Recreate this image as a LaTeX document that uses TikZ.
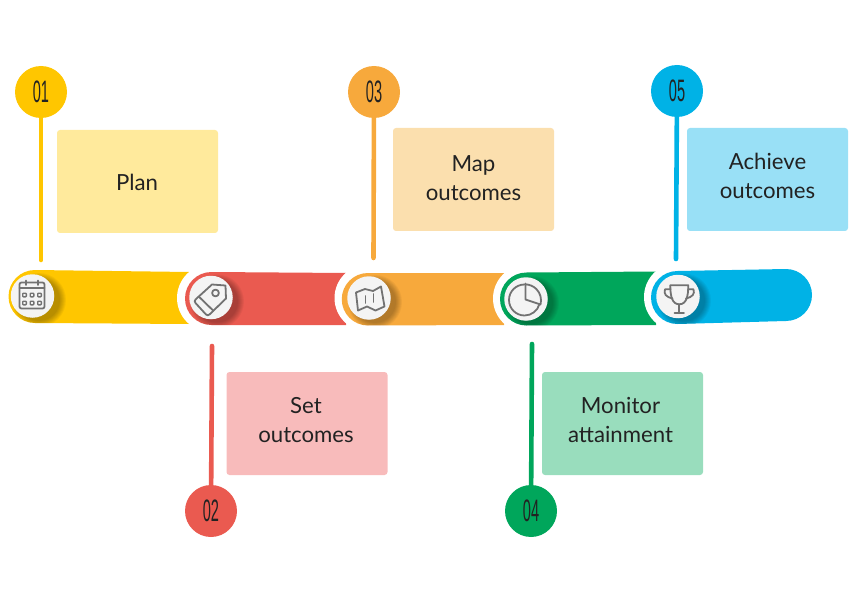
\documentclass[tikz,border=0pt]{standalone}
\usepackage{fontspec}
\usepackage{graphicx}
\setmainfont{Lato}
\newfontfamily\digitfont{Liberation Sans}
\definecolor{cy}{HTML}{FFC600}
\definecolor{cr}{HTML}{EA5A50}
\definecolor{co}{HTML}{F7A93C}
\definecolor{cg}{HTML}{00A65B}
\definecolor{cb}{HTML}{00B2E6}
\definecolor{ly}{HTML}{FFEA9C}
\definecolor{lr}{HTML}{F8BBBB}
\definecolor{lo}{HTML}{FBDFAE}
\definecolor{lg}{HTML}{99DDBD}
\definecolor{lb}{HTML}{99E0F6}
\definecolor{ink}{HTML}{222222}
\definecolor{icon}{HTML}{727272}
\definecolor{disc}{HTML}{F4F4F4}
\tikzset{
  badge/.style={circle,fill=#1,minimum size=52pt,inner sep=0pt,text=ink,font=\digitfont\fontsize{31}{31}\selectfont},
  infobox/.style={fill=#1,rounded corners=3pt,minimum width=161pt,minimum height=103pt,inner sep=0pt},
  boxtext/.style={text=ink,font=\fontsize{22.2}{29}\selectfont,align=center,inner sep=0pt},
  stem/.style={draw=#1,line width=4.6pt,line cap=round},
  icondisc/.style={circle,fill=disc,minimum size=43.5pt,inner sep=0pt},
  glyph/.style={draw=icon,line width=1.8pt,line join=round,line cap=round},
  % band={cx}{top}{bottom}{right x}{top at right}{bottom at right}
  band/.style n args={6}{insert path={
    (#1,#2) -- (#4,#5) -- (#4,#6) -- (#1,#3)
    .. controls ({#1-0.27615*(#3-#2)},#3) and ({#1-0.5*(#3-#2)},{(#3+#2)/2+0.27615*(#3-#2)}) .. ({#1-0.5*(#3-#2)},{(#3+#2)/2})
    .. controls ({#1-0.5*(#3-#2)},{(#3+#2)/2-0.27615*(#3-#2)}) and ({#1-0.27615*(#3-#2)},#2) .. (#1,#2) -- cycle}},
}
% soft shadow to the lower right of an icon disc
\newcommand{\softshadow}[2]{%
  \foreach \r in {27,26,...,21}{\fill[black,opacity=0.045] ({#1+6},{#2+4}) circle[radius=\r pt];}}
\begin{document}
\begin{tikzpicture}[x=1pt,y=-1pt]
\useasboundingbox (0,0) rectangle (855,607);
% bands
\fill[cy,band={35}{270}{323}{189}{272}{324}];
\begin{scope}\clip[band={35}{270}{323}{189}{272}{324}];\softshadow{33}{296}\end{scope}
\fill[white] (211,298) circle[radius=34];
\fill[cr,band={211.5}{272}{325}{346}{273}{325}];
\begin{scope}\clip[band={211.5}{272}{325}{346}{273}{325}];\softshadow{211}{297.5}\end{scope}
\fill[white] (368,298) circle[radius=33.5];
\fill[co,band={368}{273}{325.5}{504}{273}{325}];
\begin{scope}\clip[band={368}{273}{325.5}{504}{273}{325}];\softshadow{369}{298}\end{scope}
\fill[white] (527,298.5) circle[radius=34];
\fill[cg,band={526.5}{272.5}{325.5}{656}{271.5}{325}];
\begin{scope}\clip[band={526.5}{272.5}{325.5}{656}{271.5}{325}];\softshadow{526}{299}\end{scope}
\fill[white] (678,297) circle[radius=34];
\fill[cb,band={677.5}{271}{324}{786}{269}{321}];
\fill[cb] (786,295) circle[radius=26];
\begin{scope}\clip[band={677.5}{271}{324}{786}{269}{321}];\softshadow{678}{296.5}\end{scope}
% icon discs
\node[icondisc] (ic1) at (32.5,296) {};
\node[icondisc] (ic2) at (211,297.5) {};
\node[icondisc] (ic3) at (369,298) {};
\node[icondisc] (ic4) at (526,299) {};
\node[icondisc] (ic5) at (678,296.5) {};
% calendar
\draw[glyph,rounded corners=2pt] (19.5,282.5) rectangle (44.5,308.5);
\draw[glyph] (19.5,288) -- (44.5,288) (26,280.5) -- (26,285) (38,280.5) -- (38,285);
\foreach \px in {24.5,32,39.5}\foreach \py in {295,303}{\draw[glyph,line width=1.4pt,rounded corners=0.8pt] ({\px-1.8},{\py-1.8}) rectangle ({\px+1.8},{\py+1.8});}
% tag
\draw[glyph] (212,284.5) -- (225.5,285.5) -- (226,298.5) -- (209.5,314.5) .. controls (208.5,315.5) and (207,315.5) .. (206,314.5) -- (195.5,303) .. controls (194.5,302) and (194.5,300.5) .. (195.5,299.5) -- cycle;
\draw[glyph] (198.7,296.5) -- (213.3,310.7);
\draw[glyph] (215.5,293) circle[radius=3.4];
% map
\draw[glyph] (356,292.5) -- (365,289) -- (373,291) -- (381,286.5) -- (384.5,306.5) -- (375.5,310.5) -- (367,306.5) -- (358,310.5) -- cycle;
\draw[glyph] (365.5,296) -- (365.5,303) (373.5,294) -- (373.5,302);
% pie
\draw[glyph] (524.5,284.5) arc[start angle=-90,end angle=-345,radius=15.5];
\draw[glyph] (525.5,283.5) -- (525.5,299.5) -- (540.5,304.5) arc[start angle=15,end angle=-90,radius=16];
% trophy
\draw[glyph] (670.3,285.3) -- (688.3,285.3) .. controls (688.3,296) and (686.5,304.3) .. (679.3,304.3) .. controls (672,304.3) and (670.3,296) .. (670.3,285.3) -- cycle;
\draw[glyph] (670.5,289.3) -- (665,289.3) .. controls (663.5,294) and (666,297) .. (672.5,298.5);
\draw[glyph] (688,289.3) -- (693.5,289.3) .. controls (695,294) and (692.5,297) .. (686,298.5);
\draw[glyph] (679.3,304.3) -- (679.3,313.3) (674.5,313.3) -- (684,313.3);
% badges
\node[badge=cy] (b1) at (41,92) {\scalebox{.47}[1]{01}};
\node[badge=cr] (b2) at (211,511) {\scalebox{.47}[1]{02}};
\node[badge=co] (b3) at (374,92) {\scalebox{.47}[1]{03}};
\node[badge=cg] (b4) at (531,511) {\scalebox{.47}[1]{04}};
\node[badge=cb] (b5) at (677,91) {\scalebox{.47}[1]{05}};
% stem ends
\coordinate (s1) at (41,260);
\coordinate (s2) at (212,346);
\coordinate (s3) at (373.5,258);
\coordinate (s4) at (532,344);
\coordinate (s5) at (676,259);
\draw[stem=cy] (b1) -- (s1);
\draw[stem=cr] (b2) -- (s2);
\draw[stem=co] (b3) -- (s3);
\draw[stem=cg] (b4) -- (s4);
\draw[stem=cb] (b5) -- (s5);
% boxes
\node[infobox=ly] (box1) at (137.5,181.5) {};
\node[infobox=lr] (box2) at (307,423.5) {};
\node[infobox=lo] (box3) at (473.5,179.5) {};
\node[infobox=lg] (box4) at (622.5,423.5) {};
\node[infobox=lb] (box5) at (767.5,179.5) {};
\node[boxtext] (t1) at (137,182) {Plan};
\node[boxtext] (t2) at (306,420) {Set\\outcomes};
\node[boxtext] (t3) at (473.5,178) {Map\\outcomes};
\node[boxtext] (t4) at (620.5,420) {Monitor\\attainment};
\node[boxtext] (t5) at (767.5,176) {Achieve\\outcomes};
\end{tikzpicture}
\end{document}
